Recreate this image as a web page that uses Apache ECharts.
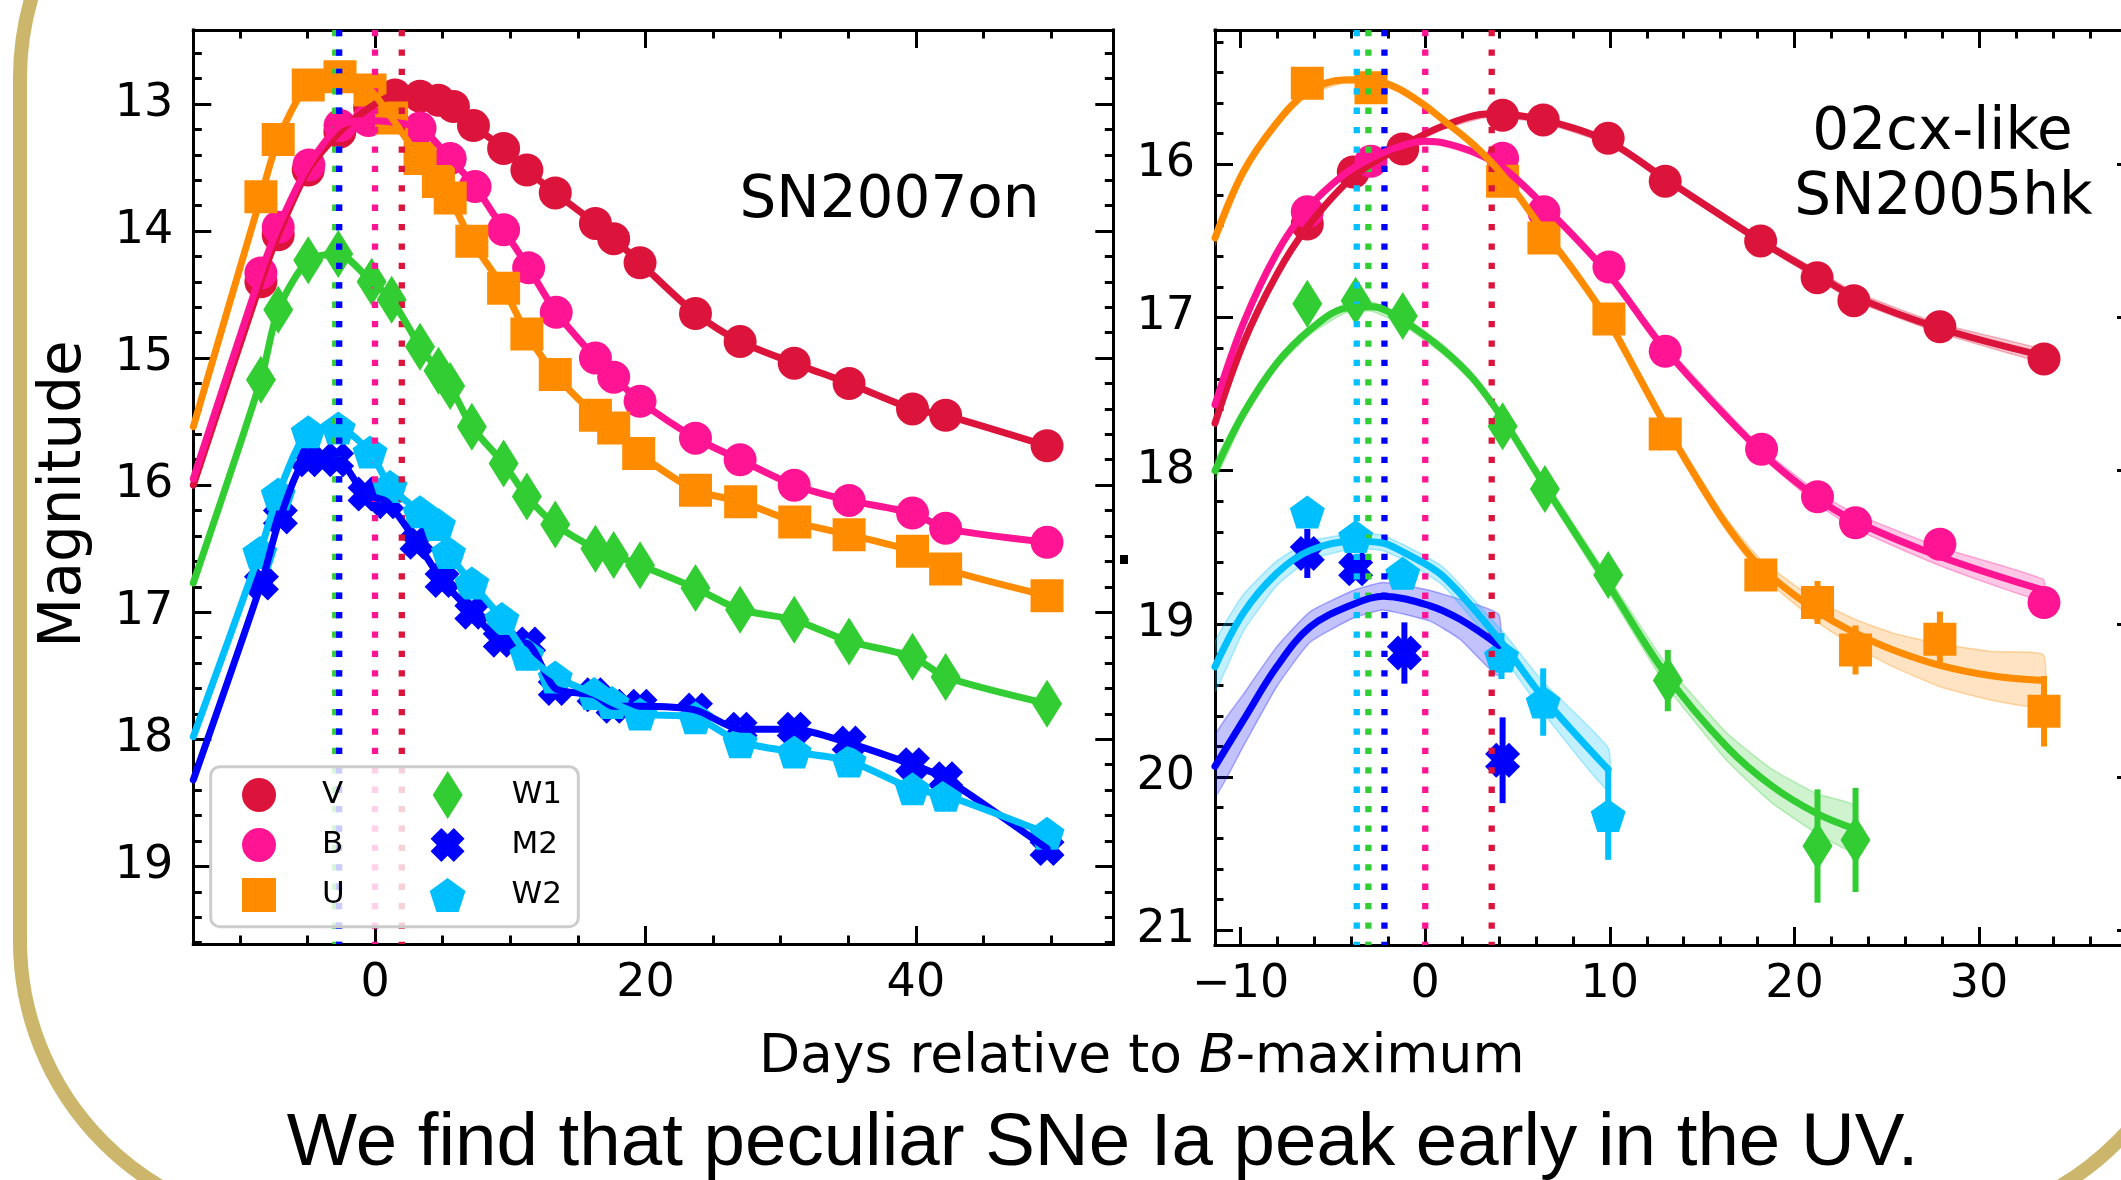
<!DOCTYPE html>
<html><head><meta charset="utf-8">
<script src="https://cdn.jsdelivr.net/npm/echarts@6/dist/echarts.min.js"></script>
<style>html,body{margin:0;padding:0;background:#fff;}#c{width:2121px;height:1180px;}</style>
</head><body><div id="c"></div>
<script>
// ===================== DATA =====================
const BAND_NAMES = ['V', 'B', 'U', 'W1', 'M2', 'W2'];

// ---- Left panel: SN2007on (days relative to B max, magnitudes) ----
const L_V_day = [-8.44,-7.16,-4.94,-2.6,-0.4,1.48,3.33,4.69,5.8,7.28,9.51,11.23,13.33,16.3,17.65,19.6,23.7,27.0,31.0,35.06,39.75,42.2,49.7];
const L_V_mag = [14.40,14.03,13.52,13.22,13.03,12.93,12.94,12.97,13.02,13.17,13.35,13.52,13.70,13.94,14.06,14.25,14.65,14.87,15.04,15.20,15.40,15.45,15.69];
const L_B_day = [-8.44,-7.16,-4.89,-2.59,-0.49,3.33,5.56,7.4,9.51,11.36,13.4,16.3,17.65,19.6,23.7,27.0,31.0,35.06,39.75,42.2,49.7];
const L_B_mag = [14.33,13.97,13.48,13.17,13.13,13.19,13.43,13.65,13.99,14.29,14.64,15.00,15.15,15.34,15.63,15.80,16.00,16.12,16.22,16.34,16.45];
const L_U_day = [-8.44,-7.16,-4.94,-2.59,-0.37,1.23,3.33,4.69,5.56,7.16,9.51,11.23,13.33,16.3,17.65,19.5,23.7,27.04,31.04,35.06,39.75,42.2,49.7];
const L_U_mag = [13.73,13.28,12.85,12.785,12.89,13.11,13.43,13.61,13.74,14.08,14.45,14.81,15.13,15.45,15.55,15.75,16.04,16.13,16.29,16.39,16.52,16.66,16.87];
const L_W1_day = [-8.44,-7.16,-4.94,-2.72,-0.25,1.23,3.33,4.69,5.56,7.16,9.51,11.23,13.33,16.3,17.65,19.6,23.7,27.0,31.0,35.06,39.75,42.2,49.7];
const L_W1_mag = [15.17,14.62,14.23,14.18,14.40,14.54,14.91,15.10,15.22,15.54,15.83,16.09,16.31,16.50,16.55,16.63,16.81,16.98,17.06,17.23,17.35,17.51,17.72];
const L_M2_day = [-8.4,-7.0,-4.94,-2.84,-0.74,0.86,3.1,4.96,7.16,9.26,11.36,13.33,16.2,17.6,19.6,23.7,27.0,31.0,35.06,39.75,42.2,49.7];
const L_M2_mag = [16.77,16.25,15.80,15.80,16.07,16.13,16.45,16.75,17.00,17.22,17.25,17.60,17.65,17.74,17.74,17.77,17.92,17.92,18.03,18.20,18.31,18.86];
const L_W2_day = [-8.52,-7.16,-4.94,-2.72,-0.37,1.11,3.33,4.69,5.43,7.16,9.38,11.23,13.33,16.2,17.53,19.6,23.7,27.0,31.0,35.06,39.75,42.2,49.7];
const L_W2_mag = [16.53,16.07,15.58,15.55,15.74,16.01,16.21,16.31,16.53,16.77,17.05,17.33,17.51,17.64,17.71,17.80,17.83,18.02,18.10,18.17,18.39,18.44,18.74];
// where each fitted curve enters at the left edge of the panel (V,B,U,W1,M2,W2)
const L_fitStartMag = [16.00, 15.95, 15.54, 16.77, 18.32, 17.98];
// peak epochs (dotted lines)
const L_peakBand = ['W1', 'W2', 'M2', 'B', 'V'];
const L_peakDay  = [-2.94, -2.70, -2.65, 0.0, 1.98];

// ---- Right panel: 02cx-like SN2005hk ----
const R_V_day = [-6.39,-3.90,-1.22,4.19,6.39,9.91,13.0,18.17,21.23,23.22,27.88,33.52];
const R_V_mag = [16.39,16.05,15.90,15.68,15.71,15.83,16.11,16.50,16.74,16.89,17.06,17.27];
const R_V_err = [0.02,0.02,0.02,0.02,0.02,0.02,0.02,0.02,0.02,0.02,0.02,0.02];
const R_B_day = [-6.39,-2.94,4.19,6.43,9.95,13.0,18.22,21.25,23.31,27.88,33.52];
const R_B_mag = [16.31,15.98,15.96,16.31,16.67,17.22,17.86,18.17,18.34,18.48,18.86];
const R_B_err = [0.02,0.02,0.02,0.02,0.02,0.02,0.03,0.03,0.04,0.05,0.05];
const R_U_day = [-6.39,-2.94,4.19,6.43,9.95,13.0,18.18,21.25,23.31,27.88,33.52];
const R_U_mag = [15.47,15.50,16.11,16.48,17.01,17.76,18.68,18.86,19.17,19.10,19.57];
const R_U_err = [0.03,0.03,0.03,0.03,0.04,0.05,0.10,0.14,0.16,0.18,0.23];
const R_W1_day = [-6.39,-3.77,-1.22,4.19,6.48,9.91,13.14,21.25,23.31];
const R_W1_mag = [16.91,16.89,16.99,17.71,18.12,18.68,19.37,20.45,20.41];
const R_W1_err = [0.03,0.03,0.04,0.05,0.06,0.08,0.20,0.37,0.34];
const R_M2_day = [-6.39,-3.77,-1.13,4.19];
const R_M2_mag = [18.54,18.64,19.19,19.89];
const R_M2_err = [0.16,0.06,0.20,0.28];
const R_W2_day = [-6.39,-3.77,-1.22,4.13,6.39,9.91];
const R_W2_mag = [18.27,18.43,18.67,19.21,19.51,20.25];
const R_W2_err = [0.05,0.05,0.06,0.15,0.22,0.29];

// fitted curves with half-width of the shaded band
const R_V_fitDay  = [-11.39,-9.86,-8.05,-6.39,-3.90,-1.22,0.97,3.51,6.39,9.91,12.94,18.17,21.23,23.22,27.88,33.48];
const R_V_fitMag  = [17.69,17.17,16.72,16.41,16.08,15.88,15.75,15.67,15.71,15.85,16.09,16.50,16.72,16.86,17.07,17.25];
const R_V_fitBand = [0.03,0.03,0.02,0.02,0.02,0.02,0.02,0.02,0.02,0.02,0.02,0.02,0.03,0.03,0.03,0.04];
const R_B_fitDay  = [-11.39,-9.86,-8.05,-6.39,-4.44,-2.94,-1.55,-0.08,0.97,2.60,4.19,6.43,9.95,12.94,18.22,21.25,23.31,27.88,33.48];
const R_B_fitMag  = [17.57,17.04,16.58,16.29,16.07,15.96,15.89,15.85,15.86,15.92,16.02,16.27,16.72,17.20,17.88,18.18,18.33,18.56,18.78];
const R_B_fitBand = [0.04,0.03,0.02,0.02,0.02,0.02,0.02,0.02,0.02,0.02,0.02,0.02,0.02,0.03,0.03,0.04,0.05,0.06,0.07];
const R_U_fitDay  = [-11.39,-9.86,-8.05,-6.39,-4.44,-2.94,-1.55,-0.08,0.97,2.60,4.19,6.39,8.2,9.95,11.5,13.0,14.51,16.3,18.18,21.25,23.31,25.35,27.88,30.76,33.48];
const R_U_fitMag  = [16.48,16.05,15.73,15.53,15.45,15.45,15.50,15.61,15.71,15.87,16.07,16.43,16.72,17.03,17.37,17.70,18.01,18.35,18.63,18.92,19.06,19.17,19.27,19.34,19.37];
const R_U_fitBand = [0.05,0.03,0.02,0.02,0.02,0.02,0.02,0.02,0.02,0.02,0.02,0.03,0.03,0.03,0.03,0.03,0.04,0.04,0.05,0.07,0.09,0.11,0.14,0.16,0.17];
const R_W1_fitDay  = [-11.39,-9.86,-8.05,-6.24,-4.35,-2.86,-1.22,0.97,2.60,4.19,6.48,9.91,13.04,16.32,18.8,21.25,23.31];
const R_W1_fitMag  = [18.00,17.63,17.30,17.08,16.94,16.93,17.02,17.21,17.40,17.66,18.10,18.74,19.33,19.80,20.06,20.24,20.34];
const R_W1_fitBand = [0.06,0.04,0.03,0.03,0.03,0.03,0.03,0.03,0.03,0.03,0.04,0.05,0.07,0.09,0.11,0.13,0.15];
const R_M2_fitDay  = [-11.39,-9.86,-8.05,-6.24,-3.86,-2.27,0.22,1.88,3.99];
const R_M2_fitMag  = [19.93,19.63,19.28,19.02,18.87,18.82,18.88,18.97,19.14];
const R_M2_fitBand = [0.20,0.17,0.13,0.10,0.09,0.09,0.10,0.13,0.20];
const R_W2_fitDay  = [-11.39,-9.86,-8.05,-6.24,-3.86,-2.37,-1.22,0.97,4.19,6.39,9.91];
const R_W2_fitMag  = [19.28,18.93,18.67,18.52,18.46,18.47,18.53,18.69,19.13,19.48,19.95];
const R_W2_fitBand = [0.16,0.12,0.08,0.06,0.05,0.05,0.05,0.06,0.08,0.10,0.14];
const R_peakBand = ['W2', 'W1', 'M2', 'B', 'V'];
const R_peakDay  = [-3.71, -3.08, -2.21, 0.0, 3.60];

// ---- axis ranges and tick labels ----
const L_xRange = [-13.44, 54.6];
const L_yRange = [12.418, 19.611];
const R_xRange = [-11.39, 38.45];
const R_yRange = [15.123, 21.096];
const L_xMajor = [0, 20, 40];
const L_yMajor = [13, 14, 15, 16, 17, 18, 19];
const R_xMajor = [-10, 0, 10, 20, 30];
const R_yMajor = [16, 17, 18, 19, 20, 21];

const TEXT_LEFT = 'SN2007on';
const TEXT_RIGHT = ['02cx-like', 'SN2005hk'];
const X_LABEL = ['Days relative to ', 'B', '-maximum'];
const Y_LABEL = 'Magnitude';
const CAPTION = 'We find that peculiar SNe Ia peak early in the UV.';

// ===================== STYLE / BUILD =====================
const FONT = 'DejaVu Sans';
const COLORS = {V:'#DC143C', B:'#FF1493', U:'#FF8C00', W1:'#32CD32', M2:'#0000FF', W2:'#00BFFF'};
const XPATH = 'path://M1.6,-4.4L4.4,-1.6L2.8,0L4.4,1.6L1.6,4.4L0,2.8L-1.6,4.4L-4.4,1.6L-2.8,0L-4.4,-1.6L-1.6,-4.4L0,-2.8Z';
const PENT = 'path://M0,-1L0.951,-0.309L0.588,0.809L-0.588,0.809L-0.951,-0.309Z';
const SQ = 'path://M0,0L10,0L10,10L0,10Z';
const DIAM = 'path://M0,-8L5,0L0,8L-5,0Z';
const SYM = {V:'circle', B:'circle', U:'rect', W1:'diamond', M2:XPATH, W2:PENT};
const SYMSIZE = {V:33, B:33, U:33, W1:[30,48], M2:35, W2:[35,33]};
const LEG_ICON = {V:'circle', B:'circle', U:SQ, W1:DIAM, M2:XPATH, W2:PENT};

function rgba(hex, a) {
  const n = parseInt(hex.slice(1), 16);
  return 'rgba(' + ((n >> 16) & 255) + ',' + ((n >> 8) & 255) + ',' + (n & 255) + ',' + a + ')';
}
function stepValues(a, b, s, exclude) {
  const out = [];
  for (let v = a; v <= b + 1e-9; v += s) {
    const r = Math.round(v * 100) / 100;
    if (!exclude.some(e => Math.abs(e - r) < 1e-6)) out.push(r);
  }
  return out;
}
const L_xMinor = stepValues(-10, 50, 5, L_xMajor);
const L_yMinor = stepValues(12.6, 19.6, 0.2, L_yMajor);
const R_xMinor = stepValues(-10, 38, 2, R_xMajor);
const R_yMinor = stepValues(15.2, 21.0, 0.2, R_yMajor);

const LINE_AX = {color:'#000', width:3, cap:'square'};
function mkAxis(isX, g, pos, range, vals, len, showLine, labels) {
  const ax = {
    type:'value', gridIndex:g, position:pos, min:range[0], max:range[1],
    axisLine:{show:showLine, onZero:false, lineStyle:LINE_AX},
    axisTick:{show:true, inside:true, length:len, customValues:vals, lineStyle:{color:'#000', width:3}},
    axisLabel: labels ? {show:true, customValues:vals, fontSize:46, fontFamily:FONT, color:'#000',
      margin: isX ? 17 : 20, formatter: v => String(v).replace('-', '\u2212')} : {show:false},
    splitLine:{show:false}, minorTick:{show:false}, minorSplitLine:{show:false}
  };
  if (!isX) ax.inverse = true;
  return ax;
}
const xAxes = [], yAxes = [];
[[L_xRange, L_yRange, L_xMajor, L_xMinor, L_yMajor, L_yMinor],
 [R_xRange, R_yRange, R_xMajor, R_xMinor, R_yMajor, R_yMinor]].forEach((p, g) => {
  xAxes.push(mkAxis(true, g, 'bottom', p[0], p[2], 18, true, true));
  xAxes.push(mkAxis(true, g, 'bottom', p[0], p[3], 8.5, false, false));
  xAxes.push(mkAxis(true, g, 'top', p[0], p[2], 18, true, false));
  xAxes.push(mkAxis(true, g, 'top', p[0], p[3], 8.5, false, false));
  yAxes.push(mkAxis(false, g, 'left', p[1], p[4], 18, true, true));
  yAxes.push(mkAxis(false, g, 'left', p[1], p[5], 8.5, false, false));
  yAxes.push(mkAxis(false, g, 'right', p[1], p[4], 18, true, false));
  yAxes.push(mkAxis(false, g, 'right', p[1], p[5], 8.5, false, false));
});

const series = [];
function zip(a, b) { return a.map((v, i) => [v, b[i]]); }
function vline(g, d, color, yr) {
  return {type:'line', xAxisIndex:4*g, yAxisIndex:4*g, data:[[d, yr[0]], [d, yr[1]]], symbol:'none',
    silent:true, lineStyle:{color:color, width:6.3, type:[6.3, 13.1], cap:'butt'}};
}
L_peakBand.forEach((b, i) => series.push(vline(0, L_peakDay[i], COLORS[b], L_yRange)));
R_peakBand.forEach((b, i) => series.push(vline(1, R_peakDay[i], COLORS[b], R_yRange)));

const LEFT = {V:[L_V_day,L_V_mag], B:[L_B_day,L_B_mag], U:[L_U_day,L_U_mag], W1:[L_W1_day,L_W1_mag], M2:[L_M2_day,L_M2_mag], W2:[L_W2_day,L_W2_mag]};
const RIGHT = {V:[R_V_day,R_V_mag,R_V_err,R_V_fitDay,R_V_fitMag,R_V_fitBand],
  B:[R_B_day,R_B_mag,R_B_err,R_B_fitDay,R_B_fitMag,R_B_fitBand],
  U:[R_U_day,R_U_mag,R_U_err,R_U_fitDay,R_U_fitMag,R_U_fitBand],
  W1:[R_W1_day,R_W1_mag,R_W1_err,R_W1_fitDay,R_W1_fitMag,R_W1_fitBand],
  M2:[R_M2_day,R_M2_mag,R_M2_err,R_M2_fitDay,R_M2_fitMag,R_M2_fitBand],
  W2:[R_W2_day,R_W2_mag,R_W2_err,R_W2_fitDay,R_W2_fitMag,R_W2_fitBand]};

function fitLine(g, data, color, sm) {
  return {type:'line', name:'fit', xAxisIndex:4*g, yAxisIndex:4*g, data:data, symbol:'none', silent:true,
    smooth:sm, lineStyle:{color:color, width:7, join:'round', cap:'round'}};
}
function scatter(g, name, data) {
  return {type:'scatter', name:name, xAxisIndex:4*g, yAxisIndex:4*g, data:data, symbol:SYM[name],
    symbolSize:SYMSIZE[name], itemStyle:{color:COLORS[name], opacity:1}, silent:true};
}
function band(days, mags, ws, color) {
  return {type:'custom', xAxisIndex:4, yAxisIndex:4, silent:true, clip:true,
    data:[[days[0], mags[0]]],
    renderItem:(p, api) => {
      const pts = [];
      for (let i = 0; i < days.length; i++) pts.push(api.coord([days[i], mags[i] - ws[i]]));
      for (let i = days.length - 1; i >= 0; i--) pts.push(api.coord([days[i], mags[i] + ws[i]]));
      return {type:'polygon', shape:{points:pts, smooth:0.15},
        style:{fill:rgba(color, 0.24), stroke:rgba(color, 0.3), lineWidth:1.5}};
    }};
}
function errbars(days, mags, errs, color) {
  return {type:'custom', xAxisIndex:4, yAxisIndex:4, silent:true,
    data:days.map((d, i) => [d, mags[i], errs[i]]),
    renderItem:(p, api) => {
      const x = api.value(0), y = api.value(1), e = api.value(2);
      const a = api.coord([x, y - e]), b = api.coord([x, y + e]);
      return {type:'line', shape:{x1:a[0], y1:a[1], x2:b[0], y2:b[1]}, style:{stroke:color, lineWidth:6}};
    }};
}
BAND_NAMES.forEach(b => {
  const r = RIGHT[b];
  series.push(band(r[3], r[4], r[5], COLORS[b]));
});
BAND_NAMES.forEach((b, k) => {
  const l = LEFT[b];
  series.push(fitLine(0, [[L_xRange[0], L_fitStartMag[k]]].concat(zip(l[0], l[1])), COLORS[b], 0.25));
  series.push(scatter(0, b, zip(l[0], l[1])));
  const r = RIGHT[b];
  series.push(fitLine(1, zip(r[3], r[4]), COLORS[b], 0.35));
  series.push(errbars(r[0], r[1], r[2], COLORS[b]));
  series.push(scatter(1, b, zip(r[0], r[1])));
});

function legendCol(names, left, top, w, h, gap, pad) {
  return {data:names.map(n => ({name:n, icon:LEG_ICON[n]})), orient:'vertical', left:left, top:top,
    itemWidth:w, itemHeight:h, itemGap:gap, padding:0, selectedMode:false, z:10, symbolKeepAspect:true,
    textStyle:{fontSize:31, fontFamily:FONT, color:'#000', padding:[0, 0, 0, pad]}};
}
const legend = [
  legendCol(['V','B','U'], 242, 778, 34, 34, 16, 41),
  legendCol(['W1'], 432.7, 771, 30, 48, 2, 44),
  legendCol(['M2','W2'], 429.7, 828, 36, 34, 16, 41)
];

function txt(x, y, text, size, family, extra) {
  return Object.assign({type:'text', x:x, y:y, z:20, silent:true,
    style:{text:text, fontSize:size, fontFamily:family, fill:'#000',
      align:'center', verticalAlign:'middle', textAlign:'center', textVerticalAlign:'middle'}}, extra || {});
}
const graphic = [
  {type:'rect', z:0, silent:true, shape:{x:20, y:-207, width:2180, height:1433, r:285},
   style:{fill:'none', stroke:'#CBB66B', lineWidth:14}},
  {type:'rect', z:5, silent:true, shape:{x:210.7, y:766.7, width:367.6, height:160, r:9},
   style:{fill:'rgba(255,255,255,0.8)', stroke:'#cccccc', lineWidth:3}},
  {type:'rect', z:5, silent:true, shape:{x:1120, y:555, width:8, height:9}, style:{fill:'#000'}},
  txt(889.5, 202, TEXT_LEFT, 58, FONT),
  txt(1942.5, 134, TEXT_RIGHT[0], 58, FONT),
  txt(1943.4, 199, TEXT_RIGHT[1], 58, FONT),
  txt(65, 494, Y_LABEL, 58, FONT, {rotation: Math.PI / 2}),
  {type:'text', x:1141.7, y:1058, z:20, silent:true,
   style:{text:'{n|' + X_LABEL[0] + '}{i|' + X_LABEL[1] + '}{n|' + X_LABEL[2] + '}',
     fontSize:53.5, fontFamily:FONT, fill:'#000', align:'center', verticalAlign:'middle',
     textAlign:'center', textVerticalAlign:'middle',
     rich:{n:{fontSize:53.5, fontFamily:FONT, fill:'#000', color:'#000'},
           i:{fontSize:53.5, fontFamily:FONT, fontStyle:'italic', fill:'#000', color:'#000'}}}},
  txt(1102.5, 1144, CAPTION, 74.5, '"Liberation Sans", Arial, sans-serif')
];

const chart = echarts.init(document.getElementById('c'), null, {renderer:'canvas'});
chart.setOption({
  animation:false,
  backgroundColor:'#ffffff',
  grid:[{left:193.3, top:30, width:920, height:914, outerBoundsMode:'none', containLabel:false},
        {left:1215, top:30, width:920, height:915, outerBoundsMode:'none', containLabel:false}],
  xAxis:xAxes, yAxis:yAxes, series:series, legend:legend, graphic:graphic
});
</script></body></html>
